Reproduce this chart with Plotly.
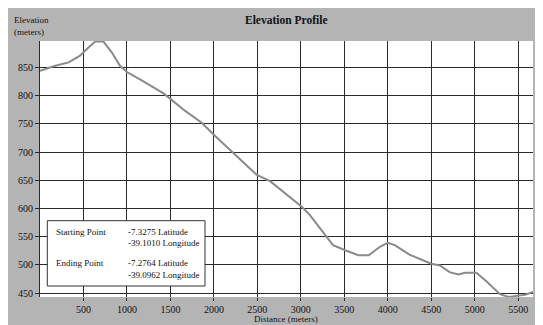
import plotly.graph_objects as go

# Data
distance_m = [0, 175, 330, 460, 560, 635, 730, 825, 920, 1000, 1170, 1290, 1420, 1510,
              1670, 1860, 1990, 2220, 2490, 2650, 3010, 3100, 3280, 3370, 3510, 3660,
              3780, 3910, 4000, 4080, 4250, 4370, 4500, 4600, 4710, 4810, 4890, 5020,
              5140, 5290, 5390, 5480, 5580, 5670]
elevation_m = [844, 853, 859, 871, 886, 896, 896, 877, 853, 842, 827, 816, 804, 793,
               773, 752, 732, 699, 660, 648, 603, 589, 553, 535, 526, 517,
               517, 532, 539, 535, 518, 510, 502, 499, 487, 483, 486, 486,
               470, 448, 443, 445, 447, 452]

x_ticks = [500, 1000, 1500, 2000, 2500, 3000, 3500, 4000, 4500, 5000, 5500]
y_ticks = [450, 500, 550, 600, 650, 700, 750, 800, 850]

info_labels = ["Starting Point", "Ending Point"]
info_lat = ["-7.3275 Latitude", "-7.2764 Latitude"]
info_lon = ["-39.1010 Longitude", "-39.0962 Longitude"]

FONT = "Liberation Serif, Times New Roman, serif"
OFF = 8  # page body margin
W, H = 543 - OFF, 325 - OFF
# plot area in page pixels: x 40..533, y 41..297
ML, MT = 40 - OFF, 41 - OFF
MR, MB = 543 - 533, 325 - 297
PW, PH = W - ML - MR, H - MT - MB


def px_x(px):  # page pixel -> paper
    return (px - OFF - ML) / PW


def px_y(py):
    return 1 - (py - OFF - MT) / PH


fig = go.Figure()
fig.add_trace(go.Scatter(x=distance_m, y=elevation_m, mode="lines",
                         line=dict(color="#8a8a8a", width=2), hoverinfo="skip"))

axis_common = dict(showgrid=True, gridcolor="#2a2a2a", gridwidth=1, zeroline=False,
                   ticks="outside", tickcolor="#2a2a2a",
                   tickfont=dict(family=FONT, size=10, color="#111"))

fig.update_xaxes(range=[0, 5670], tickvals=x_ticks, ticklen=3, showline=False,
                 **axis_common)
fig.update_yaxes(range=[443, 897], tickvals=y_ticks, ticklen=4, showline=True,
                 linecolor="#2a2a2a", linewidth=1, **axis_common)

shapes = [
    dict(type="rect", xref="paper", yref="paper", x0=px_x(47.3), x1=px_x(205),
         y0=px_y(286), y1=px_y(220.7), fillcolor="white",
         line=dict(color="#333", width=1), layer="above"),
]

annotations = []
row_y = [(232, 242.7), (263.3, 275)]
for lbl, lat, lon, (y1, y2) in zip(info_labels, info_lat, info_lon, row_y):
    annotations.append(dict(text=lbl, x=px_x(54), y=px_y(y1), xanchor="left",
                            yanchor="middle"))
    annotations.append(dict(text=lat, x=px_x(126), y=px_y(y1), xanchor="left",
                            yanchor="middle"))
    annotations.append(dict(text=lon, x=px_x(126), y=px_y(y2), xanchor="left",
                            yanchor="middle"))

annotations.append(dict(text="Elevation<br>(meters)", x=px_x(11.5), y=px_y(26),
                        xanchor="left", yanchor="middle", align="left"))
annotations.append(dict(text="Distance (meters)", x=px_x(286), y=px_y(318.5),
                        xanchor="center", yanchor="middle"))
annotations.append(dict(text="<b>Elevation Profile</b>", x=px_x(286), y=px_y(20),
                        xanchor="center", yanchor="middle",
                        font=dict(family=FONT, size=11.5, color="#111")))

for a in annotations:
    a.setdefault("font", dict(family=FONT, size=9, color="#111"))
    a.update(xref="paper", yref="paper", showarrow=False)

fig.update_layout(
    width=W, height=H,
    margin=dict(l=ML, r=MR, t=MT, b=MB),
    paper_bgcolor="#b4b4b4",
    plot_bgcolor="white",
    showlegend=False,
    shapes=shapes,
    annotations=annotations,
    font=dict(family=FONT, size=10, color="#111"),
)

fig.write_html("out.html")
